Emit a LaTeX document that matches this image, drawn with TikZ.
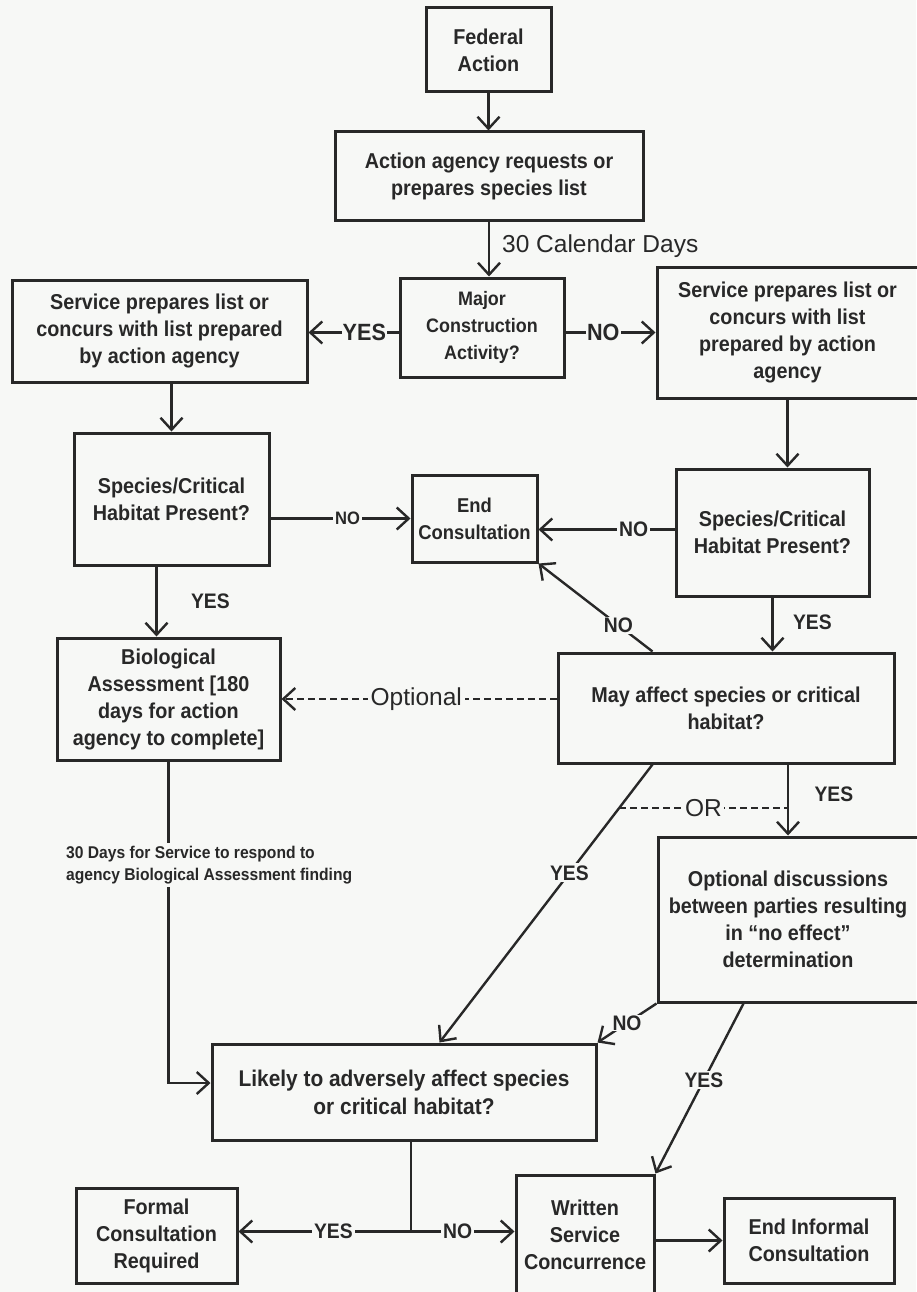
\documentclass[tikz,border=0pt]{standalone}
\usepackage{fontspec}
\setmainfont{Liberation Sans}[FakeStretch=0.92]
\newfontfamily\widefont{Liberation Sans}
\usetikzlibrary{arrows.meta,calc}
\definecolor{bg}{RGB}{247,248,246}
\definecolor{ink}{RGB}{40,40,40}
\newcommand\boxfont{\fontsize{21.5}{27}\selectfont\bfseries}
\newcommand\lblfont{\fontsize{21}{25}\selectfont\bfseries}
\newcommand\biglblfont{\fontsize{23.5}{27}\selectfont\bfseries}
\newcommand\bigfont{\widefont\fontsize{24.5}{28}\selectfont}
\newcommand\notefont{\fontsize{17}{22}\selectfont\bfseries}
\tikzset{
  box/.style={draw=ink, line width=3pt, align=center, font=\boxfont, text=ink, inner sep=3pt},
  arr/.style={draw=ink, line width=2.4pt, -{Straight Barb[length=12pt,width=22pt,line width=2.4pt]}},
  ln/.style={draw=ink, line width=2.4pt},
  dsh/.style={draw=ink, line width=1.8pt, dash pattern=on 7pt off 4pt},
  lbl/.style={fill=bg, inner sep=2pt, font=\lblfont, text=ink},
  biglbl/.style={fill=bg, inner sep=3pt, font=\bigfont, text=ink},
}
\begin{document}
\begin{tikzpicture}[x=1pt,y=-1pt]
\fill[bg] (0,0) rectangle (916,1292);
\useasboundingbox (0,0) rectangle (916,1292);

% boxes
\node[box, minimum width=125pt, minimum height=84pt] (fed) at (488.5,50) {Federal\\Action};
\node[box, minimum width=308pt, minimum height=88pt] (act) at (489,176) {Action agency requests or\\prepares species list};
\node[box, minimum width=164pt, minimum height=99pt, font=\fontsize{19.5}{27}\selectfont\bfseries] (major) at (482,327.5) {Major\\Construction\\Activity?};
\node[box, minimum width=295pt, minimum height=102pt] (lserv) at (159.5,331) {Service prepares list or\\concurs with list prepared\\by action agency};
\node[box, minimum width=261pt, minimum height=131pt] (rserv) at (787.5,332.5) {Service prepares list or\\concurs with list\\prepared by action\\agency};
\node[box, minimum width=195pt, minimum height=132pt] (lspec) at (171.5,499) {Species/Critical\\Habitat Present?};
\node[box, minimum width=125pt, minimum height=87pt, font=\fontsize{20}{27}\selectfont\bfseries] (endc) at (474.5,518.5) {End\\Consultation};
\node[box, minimum width=193pt, minimum height=127pt] (rspec) at (772.5,532.5) {Species/Critical\\Habitat Present?};
\node[box, minimum width=223pt, minimum height=122pt] (bio) at (168.5,699) {Biological\\Assessment [180\\days for action\\agency to complete]};
\node[box, minimum width=336pt, minimum height=110pt] (may) at (726,708) {May affect species or critical\\habitat?};
\node[box, minimum width=260pt, minimum height=165pt] (optd) at (788,919.5) {Optional discussions\\between parties resulting\\in ``no effect''\\determination};
\node[box, minimum width=384pt, minimum height=96pt, font=\fontsize{22.7}{28}\selectfont\bfseries] (likely) at (404,1092) {Likely to adversely affect species\\or critical habitat?};
\node[box, minimum width=161pt, minimum height=95pt] (formal) at (156.5,1235.5) {Formal\\Consultation\\Required};
\node[box, minimum width=138pt, minimum height=120pt] (written) at (585,1235) {Written\\Service\\Concurrence};
\node[box, minimum width=170pt, minimum height=85pt] (endi) at (809,1240.5) {End Informal\\Consultation};

% connectors
\draw[arr] (fed.south) -- (fed.south |- act.north);
\draw[arr] (act.south) -- (act.south |- major.north)
  node[pos=0.45, anchor=west, xshift=10pt, font=\bigfont, text=ink, inner sep=2pt] {30 Calendar Days};
\coordinate (mw) at ($(major.west)+(0,5)$);
\coordinate (me) at ($(major.east)+(0,5)$);
\draw[arr] (mw) -- (mw -| lserv.east) node[lbl, font=\biglblfont, pos=0.38, inner sep=1pt] {YES};
\draw[arr] (me) -- (me -| rserv.west) node[lbl, font=\biglblfont, pos=0.42, inner sep=1pt] {NO};
\draw[arr] (lspec.north |- lserv.south) -- (lspec.north);
\draw[arr] (rserv.south) -- (rserv.south |- rspec.north);
\draw[arr] (endc.west -| lspec.east) -- (endc.west) node[lbl, pos=0.55, font=\fontsize{18}{22}\selectfont\bfseries] {NO};
\coordinate (e2) at ($(endc.east)+(0,11)$);
\draw[arr] (rspec.west |- e2) -- (e2) node[lbl, pos=0.3] {NO};
\draw[arr] ($(may.north west)+(96,0)$) -- (endc.south east) node[lbl, pos=0.3, inner sep=1pt] {NO};
\draw[arr] (rspec.south) -- (rspec.south |- may.north) node[pos=0.45, anchor=west, xshift=16pt, font=\lblfont, text=ink] {YES};
\coordinate (bt) at ($(bio.north)+(-12,0)$);
\draw[arr] (bt |- lspec.south) -- (bt) node[pos=0.5, anchor=west, xshift=30pt, font=\lblfont, text=ink] {YES};
\draw[arr, dash pattern=on 7pt off 4pt, line width=1.8pt] (may.west |- bio.east) -- (bio.east) node[biglbl, pos=0.51] {Optional};
\draw[arr] (optd.north |- may.south) -- (optd.north) node[pos=0.42, anchor=west, xshift=22pt, font=\lblfont, text=ink] {YES};
\draw[arr] ($(may.south west)+(96,0)$) -- coordinate[pos=0.157] (orpt) ($(likely.north west)+(229,0)$);
\path ($(may.south west)+(96,0)$) -- node[lbl, pos=0.39] {YES} ($(likely.north west)+(229,0)$);
\draw[dsh] (orpt) -- (orpt -| optd.north) node[biglbl, pos=0.5, inner sep=2pt] {OR};
\draw[arr] (optd.south west) -- (likely.north east) node[lbl, pos=0.5, inner sep=1pt] {NO};
\draw[arr] ($(optd.south west)+(87,0)$) -- (written.north east) node[lbl, pos=0.45] {YES};
\draw[arr] (bio.south) |- ($(likely.west)+(0,-9)$);
\node[fill=bg, font=\notefont, text=ink, align=left, anchor=north west, inner sep=3pt] (note) at (63,843)
  {30 Days for Service to respond to\\agency Biological Assessment finding};
\coordinate (j) at ($(likely.south)+(7,90)$);
\draw[ln] ($(likely.south)+(7,0)$) -- (j);
\draw[arr] (j) -- (j -| formal.east) node[lbl, pos=0.45] {YES};
\draw[arr] (j) -- (j -| written.west) node[lbl, pos=0.45] {NO};
\draw[arr] (written.east |- endi.west) -- (endi.west);
\end{tikzpicture}
\end{document}
